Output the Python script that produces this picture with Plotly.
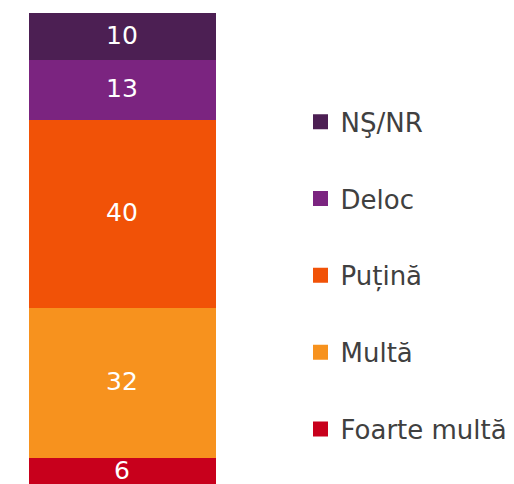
import plotly.graph_objects as go

categories = [""]
series_names = ["Foarte multă", "Multă", "Puțină", "Deloc", "NŞ/NR"]
series_values = [[6], [32], [40], [13], [10]]
colors = ["#C8001C", "#F7921E", "#F15207", "#7B2480", "#4C1F53"]

fig = go.Figure()
n = len(series_names)
for i, (name, vals, col) in enumerate(zip(series_names, series_values, colors)):
    fig.add_trace(go.Bar(
        x=categories, y=vals, name=name,
        marker=dict(color=col, line=dict(width=3, color=col)),
        text=[str(v) for v in vals],
        textposition="inside", insidetextanchor="middle", textangle=0,
        textfont=dict(color="white", size=25, family="DejaVu Sans"),
        legendgroup=name, legendrank=n - i,
        hoverinfo="skip",
    ))

# page body has an 8px default margin, so the figure is 8px smaller
fig.update_layout(
    width=506, height=476,
    margin=dict(l=21, r=298, t=5, b=0, pad=0),
    barmode="stack", bargap=0,
    plot_bgcolor="white", paper_bgcolor="white",
    uniformtext=dict(minsize=25, mode="show"),
    xaxis=dict(visible=False),
    yaxis=dict(visible=False, range=[0.3, 100.7]),
    showlegend=True,
    legend=dict(
        x=1.452, xanchor="left", y=0.443, yanchor="middle",
        traceorder="grouped", tracegroupgap=40,
        font=dict(family="DejaVu Sans", size=26, color="#404040"),
        bgcolor="rgba(0,0,0,0)",
    ),
)

fig.write_html("out.html")
